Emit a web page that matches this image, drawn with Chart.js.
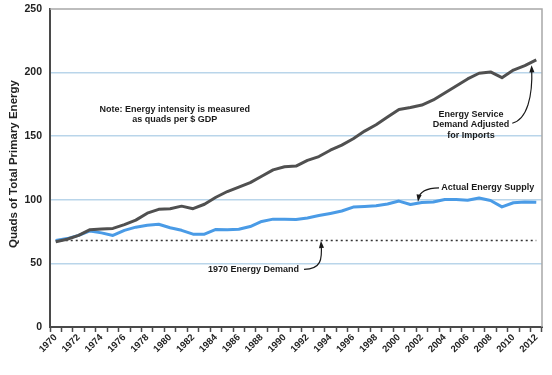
<!DOCTYPE html>
<html>
<head>
<meta charset="utf-8">
<script src="https://cdn.jsdelivr.net/npm/chart.js@4/dist/chart.umd.min.js"></script>
<style>
  html, body { margin: 0; padding: 0; background: #fff; }
  #wrap { width: 552px; height: 375px; }
</style>
</head>
<body>
<div id="wrap"><canvas id="chart" width="552" height="375"></canvas></div>
<script>
const years = ['1970','1971','1972','1973','1974','1975','1976','1977','1978','1979',
  '1980','1981','1982','1983','1984','1985','1986','1987','1988','1989',
  '1990','1991','1992','1993','1994','1995','1996','1997','1998','1999',
  '2000','2001','2002','2003','2004','2005','2006','2007','2008','2009',
  '2010','2011','2012']

const serviceDemand = [67, 69, 72, 76.5, 77, 77.5, 80.5, 84, 89.5, 92.5,
  93, 95, 93, 96.5, 102, 106.5, 110, 113.5, 118.5, 123.5,
  126, 126.5, 131, 134, 139, 143, 148, 154, 159, 165,
  171, 172.5, 174.5, 178.5, 184, 189.5, 195, 199.5, 200.5, 196,
  202, 205.5, 210]

const actualSupply = [68, 69.5, 72, 75.5, 74, 72, 76, 78.5, 80, 80.8,
  78, 76, 73, 73, 76.7, 76.4, 76.8, 79, 83, 84.8,
  84.7, 84.5, 85.7, 87.6, 89.3, 91.2, 94.3, 94.8, 95.3, 96.7,
  99, 96.3, 97.9, 98.3, 100.2, 100.3, 99.6, 101.4, 99.4, 94.4,
  97.7, 98.3, 98]

const demand1970 = 68

// text notes: [year, value] anchor in data space
const notes = [
  { lines: ['Note: Energy intensity is measured', 'as quads per $ GDP'], at: [1980.4, 171], align: 'center' },
  { lines: ['Energy Service', 'Demand Adjusted', 'for Imports'], at: [2006.3, 167.2], align: 'center' },
  { lines: ['Actual Energy Supply'], at: [2003.7, 109.4], align: 'left' },
  { lines: ['1970 Energy Demand'], at: [1983.3, 45.3], align: 'left' },
]

// curved arrows: start, control 1, control 2, end (year, value)
const arrows = [
  [[2009.9, 160.2], [2011.2, 163.3], [2011.7, 181.2], [2011.6, 203.5]],
  [[2003.5, 109.4], [2002.4, 109.2], [2001.8, 106.5], [2001.7, 100.8]],
  [[1991.7, 45.3], [1993.2, 45.5], [1993.3, 53], [1993.2, 65.5]],
]

const annotate = {
  id: 'annotate',
  afterDatasetsDraw(chart) {
    const { ctx, chartArea: a, scales: { x, y } } = chart
    const x0 = x.getPixelForValue(0), step = x.getPixelForValue(1) - x0
    const pt = ([yr, v]) => [x0 + (yr - 1970) * step, y.getPixelForValue(v)]

    ctx.save()
    // frame top / right
    ctx.strokeStyle = '#a8a8a8'
    ctx.lineWidth = 1.5
    ctx.beginPath()
    ctx.moveTo(a.left, a.top)
    ctx.lineTo(a.right, a.top)
    ctx.lineTo(a.right, a.bottom)
    ctx.stroke()

    ctx.fillStyle = '#1a1a1a'
    ctx.font = 'bold 9px "Liberation Sans", Arial, sans-serif'
    ctx.textBaseline = 'middle'
    notes.forEach(n => {
      const [px, py] = pt(n.at)
      ctx.textAlign = n.align
      n.lines.forEach((t, i) => ctx.fillText(t, px, py + i * 10.5))
    })

    ctx.strokeStyle = '#1a1a1a'
    ctx.lineWidth = 1.2
    arrows.forEach(ar => {
      const [s, c1, c2, e] = ar.map(pt)
      ctx.beginPath()
      ctx.moveTo(s[0], s[1])
      ctx.bezierCurveTo(c1[0], c1[1], c2[0], c2[1], e[0], e[1])
      ctx.stroke()
      const ang = Math.atan2(e[1] - c2[1], e[0] - c2[0])
      ctx.beginPath()
      ctx.moveTo(e[0] + Math.cos(ang) * 3, e[1] + Math.sin(ang) * 3)
      ctx.lineTo(e[0] + Math.cos(ang + 2.6) * 5, e[1] + Math.sin(ang + 2.6) * 5)
      ctx.lineTo(e[0] + Math.cos(ang - 2.6) * 5, e[1] + Math.sin(ang - 2.6) * 5)
      ctx.closePath()
      ctx.fillStyle = '#1a1a1a'
      ctx.fill()
    })

    // y axis title, slightly above the axis middle as in the original
    ctx.translate(14, 164)
    ctx.rotate(-Math.PI / 2)
    ctx.font = 'bold 11.5px "Liberation Sans", Arial, sans-serif'
    ctx.textAlign = 'center'
    ctx.fillStyle = '#222'
    ctx.fillText('Quads of Total Primary Energy', 0, 0)
    ctx.restore()
  },
}

const font = { family: '"Liberation Sans", Arial, sans-serif', weight: 'bold' }

new Chart(document.getElementById('chart').getContext('2d'), {
  type: 'line',
  data: {
    labels: years,
    datasets: [
      {
        data: serviceDemand,
        borderColor: '#505050',
        borderWidth: 3,
        pointRadius: 0,
        tension: 0,
        borderJoinStyle: 'round',
      },
      {
        data: actualSupply,
        borderColor: '#4a9be6',
        borderWidth: 3,
        pointRadius: 0,
        tension: 0,
        borderJoinStyle: 'round',
      },
      {
        data: [{ x: years[0], y: demand1970 }, { x: years[years.length - 1], y: demand1970 }],
        borderColor: '#333',
        borderWidth: 1.5,
        borderDash: [2, 3],
        pointRadius: 0,
      },
    ],
  },
  options: {
    responsive: false,
    animation: false,
    layout: { padding: { top: 9, right: 10, left: 0, bottom: 0 } },
    plugins: {
      legend: { display: false },
      tooltip: { enabled: false },
    },
    scales: {
      x: {
        offset: true,
        afterFit: s => { s.height = 48 },
        border: { color: '#4a4a4a', width: 2 },
        grid: {
          offset: true,
          drawOnChartArea: false,
          drawTicks: true,
          tickLength: 5,
          tickColor: '#4a4a4a',
          tickWidth: 1.5,
        },
        ticks: {
          autoSkip: false,
          maxRotation: 45,
          minRotation: 45,
          padding: 0,
          color: '#222',
          font: { ...font, size: 9.5 },
          callback: (v, i) => (i % 2 === 0 ? years[i] : ''),
        },
      },
      y: {
        min: 0,
        max: 250,
        afterFit: s => { s.width = 50; s.paddingTop = 0; s.paddingBottom = 0 },
        border: { color: '#4a4a4a', width: 2 },
        grid: {
          drawTicks: false,
          color: c => (c.tick && c.tick.value > 0 && c.tick.value < 250 ? '#b9d5ea' : 'rgba(0,0,0,0)'),
          lineWidth: 1.5,
        },
        ticks: {
          stepSize: 50,
          padding: 8,
          color: '#222',
          font: { ...font, size: 10.5 },
        },
      },
    },
  },
  plugins: [annotate],
})
</script>
</body>
</html>
